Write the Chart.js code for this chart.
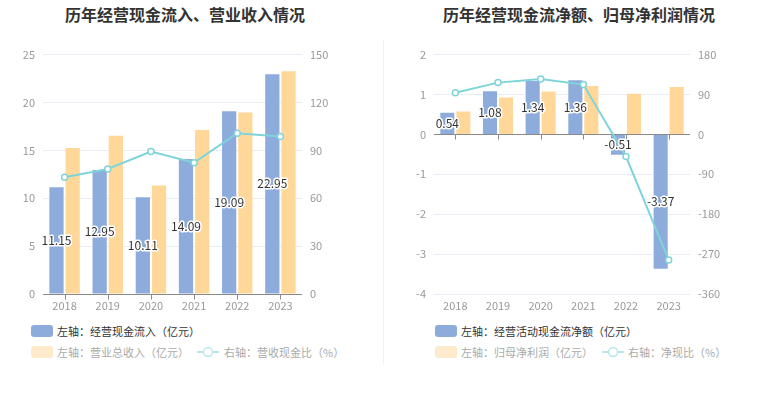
<!DOCTYPE html>
<html><head><meta charset="utf-8">
<script src="https://cdn.jsdelivr.net/npm/chart.js@4"></script>
<style>
body{margin:0;width:765px;height:393px;background:#fff;font-family:"Noto Sans CJK SC",sans-serif;position:relative;overflow:hidden}
.title{position:absolute;top:2px;font-size:16px;font-weight:bold;color:#333;white-space:nowrap;transform:translateX(-50%);line-height:24px}
.cv{position:absolute;top:40px}
.divider{position:absolute;left:383px;top:40px;width:1px;height:325px;background:#f0f0f0}
.leg{position:absolute;font-size:11px;white-space:nowrap;height:14px;line-height:14px}
.sw{position:absolute;width:22px;height:12px;border-radius:3px}
</style></head>
<body>
<div class="title" style="left:185px">历年经营现金流入、营业收入情况</div>
<div class="title" style="left:579px">历年经营现金流净额、归母净利润情况</div>
<div class="divider"></div>
<div class="cv" style="left:0;width:382px;height:275px"><canvas id="c1" width="382" height="275"></canvas></div>
<div class="cv" style="left:383px;width:382px;height:275px"><canvas id="c2" width="382" height="275"></canvas></div>

<div class="sw" style="left:31px;top:325px;background:#8dacdc"></div>
<div class="leg" style="left:57px;top:324px;color:#333">左轴：经营现金流入（亿元）</div>
<div class="sw" style="left:31px;top:346px;background:#ffebcc"></div>
<div class="leg" style="left:57px;top:345px;color:#aaa">左轴：营业总收入（亿元）</div>
<svg style="position:absolute;left:197px;top:346px" width="22" height="12"><line x1="0" y1="6" x2="22" y2="6" stroke="#b7e8ec" stroke-width="2"/><circle cx="11" cy="6" r="4.5" fill="#fff" stroke="#b7e8ec" stroke-width="1.5"/></svg>
<div class="leg" style="left:224px;top:345px;color:#aaa">右轴：营收现金比（%）</div>

<div class="sw" style="left:435px;top:325px;background:#8dacdc"></div>
<div class="leg" style="left:461px;top:324px;color:#333">左轴：经营活动现金流净额（亿元）</div>
<div class="sw" style="left:435px;top:346px;background:#ffebcc"></div>
<div class="leg" style="left:461px;top:345px;color:#aaa">左轴：归母净利润（亿元）</div>
<svg style="position:absolute;left:602px;top:346px" width="22" height="12"><line x1="0" y1="6" x2="22" y2="6" stroke="#b7e8ec" stroke-width="2"/><circle cx="11" cy="6" r="4.5" fill="#fff" stroke="#b7e8ec" stroke-width="1.5"/></svg>
<div class="leg" style="left:628px;top:345px;color:#aaa">右轴：净现比（%）</div>

<script>
const years = ['2018','2019','2020','2021','2022','2023'];
// Chart 1
const cashInflow = [11.15, 12.95, 10.11, 14.09, 19.09, 22.95];
const revenue = [15.24, 16.53, 11.32, 17.12, 18.96, 23.26];
const cashRevenueRatio = [73.2, 78.3, 89.3, 82.3, 100.7, 98.7];
// Chart 2
const netCashFlow = [0.54, 1.08, 1.34, 1.36, -0.51, -3.37];
const netProfit = [0.575, 0.925, 1.075, 1.21, 1.02, 1.19];
const netCashRatio = [94.0, 116.8, 124.7, 112.4, -50.0, -283.2];

const BLUE = '#8dacdc', YELLOW = '#ffd899', CYAN = '#7fd4da', GRID = '#e9edf5';
const FONT = '"Noto Sans CJK SC", sans-serif';

const labelPlugin = {
  id: 'lbl',
  afterDatasetsDraw(chart) {
    const meta = chart.getDatasetMeta(0);
    const ctx = chart.ctx;
    ctx.save();
    ctx.font = '12px ' + FONT;
    ctx.textAlign = 'center';
    ctx.textBaseline = 'middle';
    ctx.lineWidth = 3;
    ctx.lineJoin = 'round';
    ctx.strokeStyle = '#fff';
    ctx.fillStyle = '#333';
    meta.data.forEach((el, i) => {
      const t = chart.data.datasets[0].data[i].toFixed(2);
      const y = (el.y + el.base) / 2;
      ctx.strokeText(t, el.x, y);
      ctx.fillText(t, el.x, y);
    });
    ctx.restore();
  }
};
const axisPlugin = {
  id: 'axisLine',
  beforeDatasetsDraw(chart) {
    const ctx = chart.ctx, a = chart.chartArea;
    const y0 = Math.round(chart.scales.y.getPixelForValue(0)) + 0.5;
    const xs = chart.scales.x;
    ctx.save();
    ctx.strokeStyle = '#8a8a8a';
    ctx.lineWidth = 1;
    ctx.beginPath();
    ctx.moveTo(a.left, y0); ctx.lineTo(a.right, y0);
    years.forEach((_, i) => {
      const x = Math.round(xs.getPixelForValue(i)) + 0.5;
      ctx.moveTo(x, y0); ctx.lineTo(x, y0 + 5);
    });
    ctx.stroke();
    ctx.restore();
  }
};

function make(id, barA, barB, line, yMin, yMax, yStep, y1Min, y1Max, y1Step, leftW, rightW) {
  return new Chart(document.getElementById(id), {
    data: {
      labels: years,
      datasets: [
        {type: 'bar', data: barA, backgroundColor: BLUE, yAxisID: 'y', order: 1,
         categoryPercentage: 0.75, barPercentage: 0.88},
        {type: 'bar', data: barB, backgroundColor: YELLOW, yAxisID: 'y', order: 1,
         categoryPercentage: 0.75, barPercentage: 0.88},
        {type: 'line', data: line, borderColor: CYAN, borderWidth: 2, yAxisID: 'y1', order: 0,
         pointRadius: 3, pointBackgroundColor: '#fff', pointBorderColor: CYAN, pointBorderWidth: 1.5,
         tension: 0}
      ]
    },
    options: {
      responsive: false, animation: false,
      layout: {padding: {top: 14, left: 0, right: 0, bottom: 0}},
      plugins: {legend: {display: false}, tooltip: {enabled: false}},
      scales: {
        x: {offset: true, grid: {display: false, drawTicks: false}, border: {display: false},
            ticks: {color: '#999', font: {size: 11, family: FONT}, padding: 5},
            afterFit: s => { s.height = 21; }},
        y: {position: 'left', min: yMin, max: yMax, ticks: {stepSize: yStep, color: '#999', font: {size: 11, family: FONT}, padding: 8},
            grid: {color: GRID, drawTicks: false}, border: {display: false},
            afterFit: s => { s.width = leftW; }},
        y1: {position: 'right', min: y1Min, max: y1Max, ticks: {stepSize: y1Step, color: '#999', font: {size: 11, family: FONT}, padding: 8},
            grid: {drawOnChartArea: false, drawTicks: false}, border: {display: false},
            afterFit: s => { s.width = rightW; }}
      }
    },
    plugins: [axisPlugin, labelPlugin]
  });
}
make('c1', cashInflow, revenue, cashRevenueRatio, 0, 25, 5, 0, 150, 30, 43, 80);
make('c2', netCashFlow, netProfit, netCashRatio, -4, 2, 1, -360, 180, 90, 51, 75);
</script>
</body></html>
